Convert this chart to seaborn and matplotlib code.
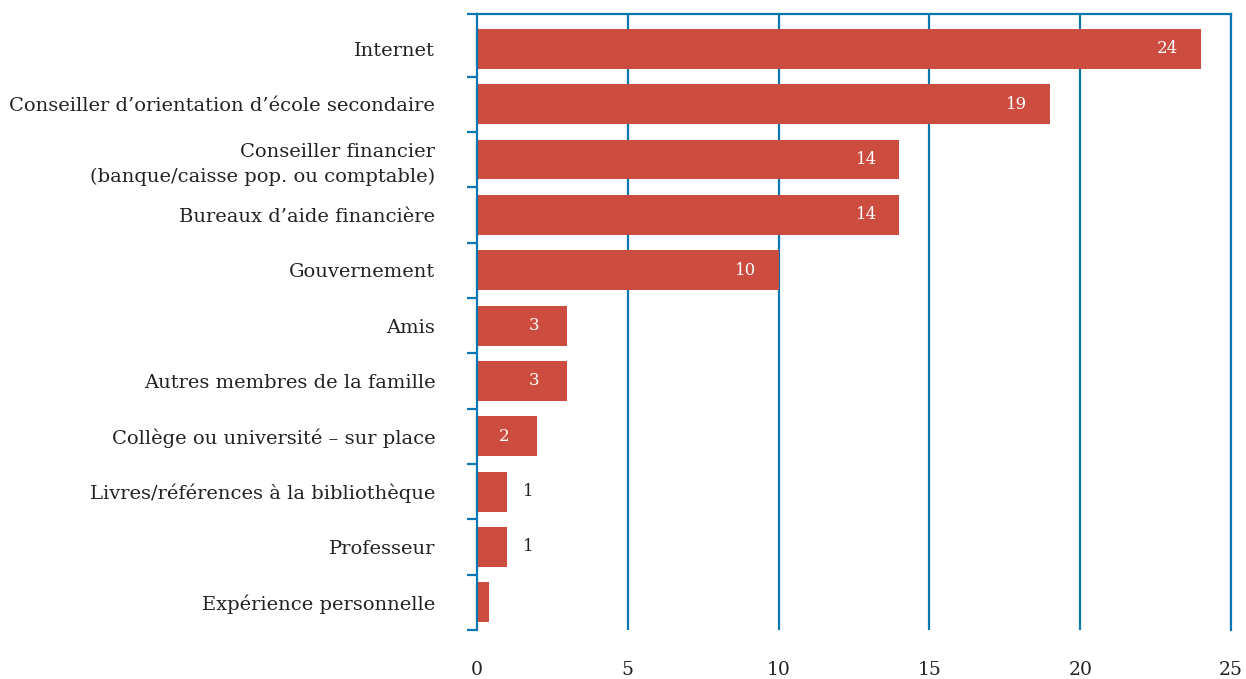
import matplotlib
matplotlib.use("Agg")
import matplotlib.pyplot as plt
import seaborn as sns
import pandas as pd

# Sources d'information (nombre de mentions)
categories = [
    "Internet",
    "Conseiller d\u2019orientation d\u2019école secondaire",
    "Conseiller financier\n(banque/caisse pop. ou comptable)",
    "Bureaux d\u2019aide financière",
    "Gouvernement",
    "Amis",
    "Autres membres de la famille",
    "Collège ou université \u2013 sur place",
    "Livres/références à la bibliothèque",
    "Professeur",
    "Expérience personnelle",
]
values = [24, 19, 14, 14, 10, 3, 3, 2, 1, 1, 0.4]
shown_labels = ["24", "19", "14", "14", "10", "3", "3", "2", "1", "1", ""]
x_ticks = [0, 5, 10, 15, 20, 25]

red = "#cc4c3f"
blue = "#0a78b0"
text_col = "#222222"

sns.set_theme(style="white")
plt.rcParams["font.family"] = ["DejaVu Serif"]

df = pd.DataFrame({"source": categories, "n": values})

fig = plt.figure(figsize=(12.46, 6.79), dpi=100)
ax = fig.add_axes([0.3828, 0.0722, 0.6052, 0.9072])

sns.barplot(data=df, y="source", x="n", color=red, saturation=1,
            width=0.72, orient="h", linewidth=0, ax=ax)

ax.set_xlim(0, 25)
ax.set_ylim(10.5, -0.63)
ax.set_xticks(x_ticks)
ax.set_xlabel("")
ax.set_ylabel("")

# gridlines
for xv in x_ticks[1:]:
    ax.axvline(xv, color=blue, lw=1.6, zorder=0)

for side in ["top", "left", "right"]:
    ax.spines[side].set_visible(True)
    ax.spines[side].set_color(blue)
    ax.spines[side].set_linewidth(1.6)
ax.spines["bottom"].set_visible(False)

ax.tick_params(axis="y", which="major", length=0, pad=30,
               labelsize=14, labelcolor=text_col)
ax.tick_params(axis="x", which="major", length=0, pad=22,
               labelsize=13.5, labelcolor=text_col, bottom=True, labelbottom=True)
ax.set_yticks([-0.63] + [i + 0.5 for i in range(11)], minor=True)
ax.tick_params(axis="y", which="minor", left=True, length=7, width=1.6, color=blue)
for t in ax.get_yticklabels():
    t.set_linespacing(1.45)

for i, (v, lab) in enumerate(zip(values, shown_labels)):
    if not lab:
        continue
    if v >= 2:
        ax.text(v - 1.1, i, lab, ha="center", va="center", color="white", fontsize=12)
    else:
        ax.text(v + 0.7, i, lab, ha="center", va="center", color=text_col, fontsize=12)

fig.savefig("out.png", dpi=100)
